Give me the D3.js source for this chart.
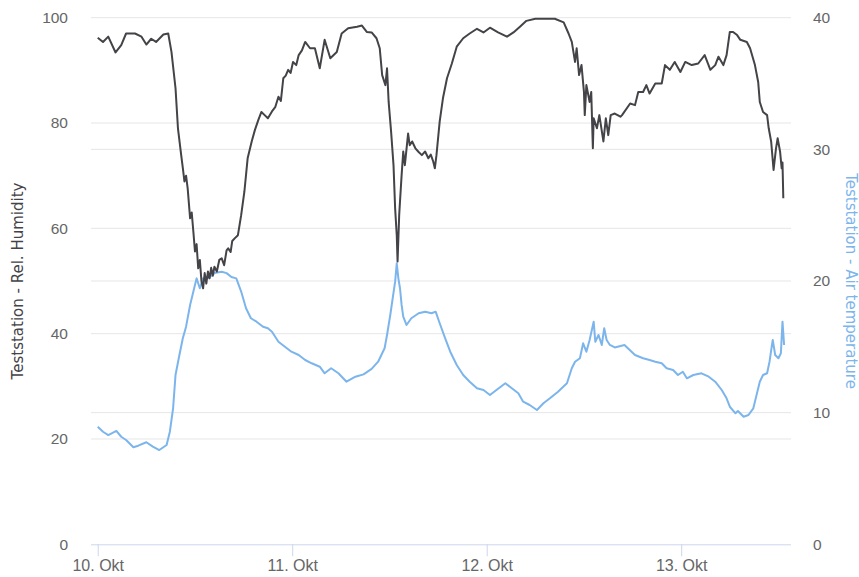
<!DOCTYPE html>
<html>
<head>
<meta charset="utf-8">
<script src="https://cdn.jsdelivr.net/npm/d3@7"></script>
<style>
  html, body { margin: 0; padding: 0; background: #ffffff; }
  svg { display: block; font-family: "DejaVu Sans", Verdana, sans-serif; }
</style>
</head>
<body>
<svg id="chart" width="859" height="577"></svg>
<script>
// Hours since 10 Oct 00:00 and relative humidity (%)
const humidityHours = [0,0.65,1.3,2.2,2.9,3.5,4.6,5.4,6.0,6.6,7.2,8.1,8.7,9.1,9.6,9.9,10.3,10.5,10.7,10.9,11.1,11.4,11.6,11.8,12.0,12.2,12.4,12.6,12.8,13.0,13.2,13.4,13.6,13.8,14.0,14.2,14.4,14.7,15.0,15.3,15.6,15.9,16.1,16.4,16.6,16.9,17.3,17.7,18.1,18.5,19.0,19.4,19.8,20.2,20.6,21.0,21.5,21.9,22.3,22.6,22.9,23.2,23.5,23.8,24.1,24.5,24.8,25.2,25.6,26.2,26.8,27.4,28.0,28.7,29.5,30.1,30.9,32.0,32.6,33.2,33.8,34.4,34.8,35.1,35.5,35.7,35.9,36.2,36.5,36.7,36.9,37.0,37.2,37.3,37.5,37.7,37.9,38.3,38.5,38.8,39.2,39.6,40.0,40.4,40.8,41.1,41.4,41.6,41.8,42.2,42.6,43.1,43.7,44.3,45.1,45.9,46.8,47.6,48.4,49.4,50.5,51.3,52.1,52.9,54.0,55.0,56.4,57.5,58.1,58.5,58.9,59.1,59.4,59.7,60.0,60.1,60.3,60.7,60.9,61.1,61.2,61.6,61.9,62.4,62.7,63.0,63.3,63.8,64.5,64.7,65.7,66.3,66.7,67.3,67.7,68.1,68.8,69.6,70.0,70.6,71.2,71.9,72.5,73.3,74.1,74.9,75.6,76.2,76.6,77.2,77.6,78.0,78.4,78.9,79.3,80.1,80.5,81.1,81.5,81.7,82.1,82.6,82.8,83.1,83.4,83.7,83.9,84.2,84.4,84.5,84.6];
const humidityValues = [96.2,95.4,96.4,93.4,94.8,97.0,97.0,96.4,94.9,96.0,95.4,96.8,97.0,93.5,86.6,79.0,73.9,71.5,68.9,70.0,67.6,61.9,63.0,59.4,55.6,57.0,52.4,54.0,50.0,48.6,51.5,49.5,51.8,50.5,52.5,51.0,52.7,51.8,54.0,54.3,53.0,55.8,56.2,55.5,57.6,58.1,58.7,62.5,67.0,73.3,76.5,78.7,80.5,82.1,81.5,80.9,82.2,83.0,85.0,84.2,88.5,89.0,90.1,89.5,91.6,91.0,92.9,93.8,95.4,94.2,94.2,90.4,95.8,92.3,93.5,97.0,98.0,98.3,98.5,97.3,97.2,96.1,94.2,89.1,87.2,90.4,84.0,78.4,72.0,63.8,58.7,53.7,62.5,65.1,70.1,74.6,72.0,78.0,75.8,76.5,75.2,74.5,73.9,74.6,73.3,74.0,72.7,71.4,73.9,80.3,84.7,88.5,91.3,94.5,96.1,97.0,97.9,97.2,98.1,97.2,96.4,97.2,98.3,99.4,99.8,99.8,99.8,99.1,97.0,95.4,91.6,94.2,89.1,91.0,85.9,81.5,87.2,84.0,85.9,75.2,80.9,79.0,81.5,76.5,80.9,77.7,81.5,81.8,81.2,81.5,83.7,83.4,85.9,85.9,87.2,85.6,87.5,87.5,91.0,90.1,91.6,89.7,91.6,91.0,91.3,92.9,90.1,91.0,92.6,91.0,92.9,97.3,97.3,96.7,95.8,95.4,94.2,91.0,87.8,84.0,82.1,81.5,79.0,76.5,71.1,75.2,77.1,74.6,71.4,72.5,65.7];

// Hours since 10 Oct 00:00 and air temperature (°C)
const temperatureHours = [0,0.65,1.3,2.3,2.9,3.5,4.4,5.0,6.0,6.8,7.6,8.5,8.9,9.3,9.6,10.0,10.5,10.9,11.4,11.9,12.2,12.6,13.0,13.6,14.4,15.3,15.9,16.5,17.1,17.7,18.3,18.9,19.6,20.4,21.0,21.5,22.3,23.1,23.9,24.8,25.6,26.4,27.4,28.0,28.8,29.7,30.7,31.8,32.8,33.8,34.6,35.4,35.7,36.1,36.4,36.7,36.9,37.1,37.3,37.5,37.7,38.1,38.7,39.6,40.4,41.2,41.7,42.2,42.9,43.5,44.3,45.1,45.9,46.8,47.6,48.4,49.2,50.3,51.1,51.9,52.5,53.3,54.2,55.0,55.8,56.8,57.9,58.5,58.9,59.5,59.9,60.3,60.7,61.2,61.4,61.8,62.2,62.5,62.8,63.2,63.8,65.0,66.3,67.3,68.1,68.8,69.6,70.2,71.0,71.6,72.2,72.7,73.5,74.5,75.4,76.2,77.0,77.6,78.0,78.7,79.0,79.7,80.3,80.9,81.3,81.7,82.1,82.6,82.9,83.2,83.3,83.6,84.0,84.3,84.5,84.7];
const temperatureValues = [8.93,8.55,8.30,8.61,8.17,7.92,7.37,7.49,7.75,7.42,7.16,7.54,8.55,10.33,12.86,14.13,15.65,16.53,18.18,19.45,20.2,19.45,20.2,20.2,20.6,20.7,20.6,20.3,20.2,19.2,17.93,17.17,16.91,16.53,16.41,16.15,15.39,15.01,14.63,14.38,14.0,13.75,13.49,12.99,13.37,12.99,12.35,12.73,12.91,13.32,13.87,14.89,15.9,17.42,18.69,19.95,21.34,20.2,19.45,18.18,17.29,16.66,17.17,17.55,17.67,17.55,17.67,16.79,15.6,14.63,13.62,12.86,12.35,11.85,11.72,11.34,11.72,12.23,11.85,11.47,10.83,10.58,10.2,10.71,11.09,11.59,12.23,13.37,13.87,14.13,15.27,14.63,15.52,16.91,15.39,15.9,15.14,16.41,15.52,15.14,14.95,15.14,14.38,14.13,14.0,13.87,13.75,13.37,13.24,12.86,13.11,12.61,12.86,12.99,12.73,12.35,11.72,11.09,10.45,9.95,10.13,9.69,9.82,10.33,11.34,12.35,12.86,12.99,13.87,15.14,15.52,14.38,14.13,14.51,16.91,15.14];

const humidityTicks = [0, 20, 40, 60, 80, 100];
const temperatureTicks = [0, 10, 20, 30, 40];
const dayTicks = ["2019-10-10", "2019-10-11", "2019-10-12", "2019-10-13"];
const monthName = "Okt";

const humidityColor = "#434348";
const temperatureColor = "#7cb5ec";

const width = 859, height = 577;
const margin = { top: 17.7, right: 68, bottom: 32.7, left: 91 };
const innerW = width - margin.left - margin.right;
const innerH = height - margin.top - margin.bottom;

const HOUR = 3600 * 1000;
const start = Date.UTC(2019, 9, 10);
const toDate = h => new Date(start + h * HOUR);

const x = d3.scaleUtc()
  .domain([toDate(-0.83), toDate(85.55)])
  .range([0, innerW]);
const yHum = d3.scaleLinear().domain([0, 100]).range([innerH, 0]);
const yTemp = d3.scaleLinear().domain([0, 40]).range([innerH, 0]);

const svg = d3.select("#chart");
const g = svg.append("g").attr("transform", `translate(${margin.left},${margin.top})`);

// Horizontal grid lines for both value axes
const gridVals = new Set();
humidityTicks.forEach(v => gridVals.add(Math.round(yHum(v) * 100) / 100));
temperatureTicks.forEach(v => gridVals.add(Math.round(yTemp(v) * 100) / 100));
g.append("g").selectAll("line")
  .data([...gridVals].filter(p => p < innerH - 0.5))
  .join("line")
  .attr("x1", 0).attr("x2", innerW)
  .attr("y1", d => d).attr("y2", d => d)
  .attr("stroke", "#e6e6e6").attr("stroke-width", 1);

// X axis
const xAxis = d3.axisBottom(x)
  .tickValues(dayTicks.map(s => new Date(s + "T00:00:00Z")))
  .tickSize(12)
  .tickPadding(3)
  .tickFormat(d => `${d.getUTCDate()}. ${monthName}`);
const xg = g.append("g").attr("transform", `translate(0,${innerH})`).call(xAxis);
xg.select(".domain").attr("stroke", "#ccd6eb").attr("d", `M0,0.5H${innerW}`);
xg.selectAll(".tick line").attr("stroke", "#ccd6eb");
xg.selectAll(".tick text").attr("fill", "#666666").attr("font-size", 16);

// Left value axis (humidity)
const yl = g.append("g").call(d3.axisLeft(yHum).tickValues(humidityTicks).tickSize(0).tickPadding(23));
yl.select(".domain").remove();
yl.selectAll(".tick text").attr("fill", "#666666").attr("font-size", 15.5);

// Right value axis (temperature)
const yr = g.append("g").attr("transform", `translate(${innerW},0)`)
  .call(d3.axisRight(yTemp).tickValues(temperatureTicks).tickSize(0).tickPadding(22));
yr.select(".domain").remove();
yr.selectAll(".tick text").attr("fill", "#666666").attr("font-size", 15.5);

// Axis titles
svg.append("text")
  .attr("transform", `translate(23,${margin.top + innerH / 2}) rotate(-90)`)
  .attr("text-anchor", "middle")
  .attr("fill", humidityColor)
  .attr("font-size", 15)
  .text("Teststation - Rel. Humidity");
svg.append("text")
  .attr("transform", `translate(846,${margin.top + innerH / 2}) rotate(90)`)
  .attr("text-anchor", "middle")
  .attr("fill", temperatureColor)
  .attr("font-size", 15)
  .text("Teststation - Air temperature");

// Series lines
const tempData = temperatureHours.map((h, i) => [toDate(h), temperatureValues[i]]);
const humData = humidityHours.map((h, i) => [toDate(h), humidityValues[i]]);

g.append("path")
  .datum(tempData)
  .attr("fill", "none")
  .attr("stroke", temperatureColor)
  .attr("stroke-width", 2)
  .attr("stroke-linejoin", "round")
  .attr("d", d3.line().x(d => x(d[0])).y(d => yTemp(d[1])));

g.append("path")
  .datum(humData)
  .attr("fill", "none")
  .attr("stroke", humidityColor)
  .attr("stroke-width", 2)
  .attr("stroke-linejoin", "round")
  .attr("d", d3.line().x(d => x(d[0])).y(d => yHum(d[1])));
</script>
</body>
</html>
